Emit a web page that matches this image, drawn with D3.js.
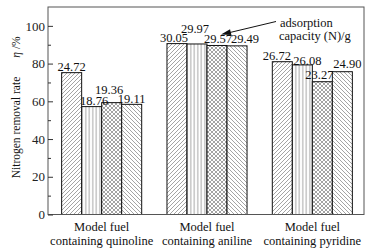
<!DOCTYPE html>
<html>
<head>
<meta charset="utf-8">
<script src="https://cdn.jsdelivr.net/npm/d3@7"></script>
<style>
html,body{margin:0;padding:0;background:#fff;}
svg{display:block;}
svg text{font-family:"Liberation Serif","Times New Roman",serif;}
</style>
</head>
<body>
<svg id="chart" width="378" height="252"></svg>
<script>
// ---- data ----
const categories = [["Model fuel","containing quinoline"],["Model fuel","containing aniline"],["Model fuel","containing pyridine"]];
const seriesNames = ["s1","s2","s3","s4"];
// nitrogen removal rate (%)
const removalRate = [
  [75.2, 57.2, 59.3, 58.4],
  [90.6, 90.4, 89.6, 89.4],
  [81.0, 79.3, 70.4, 75.7]
];
// adsorption capacity labels (mg N / g)
const capacityLabels = [
  ["24.72","18.76","19.36","19.11"],
  ["30.05","29.97","29.57","29.49"],
  ["26.72","26.08","23.27","24.90"]
];
const yTicks = [0,20,40,60,80,100];
const yMinorTicks = [10,30,50,70,90];

// ---- layout / style (not data) ----
const FONT = "Liberation Serif, Times New Roman, serif";
const labelOffsets = [
  [[0,-2],[2.5,-1.5],[-2.5,-8.5],[0,-1.5]],
  [[-3,-2],[-2,-11],[1,-2],[8,-2.5]],
  [[-5.5,-1.5],[5,0],[-3,-2.5],[5,-3.5]]
];
const m = {left:48, right:364, top:7, bottom:214.5};

const svg = d3.select("#chart").attr("font-family", FONT);
const defs = svg.append("defs");

function pat(id, size, draw){
  const p = defs.append("pattern").attr("id", id).attr("patternUnits","userSpaceOnUse")
    .attr("width", size).attr("height", size);
  p.append("rect").attr("width", size).attr("height", size).attr("fill","#fff");
  draw(p, size);
}
const hs = "#666", hw = 0.6;
pat("p1", 4, (p,s)=>{ // "///"
  p.append("path").attr("d",`M0,${s} L${s},0 M${-s/2},${s/2} L${s/2},${-s/2} M${s/2},${s*1.5} L${s*1.5},${s/2}`)
    .attr("stroke",hs).attr("stroke-width",hw);
});
pat("p2", 3.5, (p,s)=>{ // vertical
  p.append("path").attr("d",`M${s/2},0 L${s/2},${s}`).attr("stroke",hs).attr("stroke-width",hw);
});
pat("p3", 4, (p,s)=>{ // cross
  p.append("path").attr("d",`M0,${s} L${s},0 M${-s/2},${s/2} L${s/2},${-s/2} M${s/2},${s*1.5} L${s*1.5},${s/2} M0,0 L${s},${s} M${-s/2},${s/2} L${s/2},${s*1.5} M${s/2},${-s/2} L${s*1.5},${s/2}`)
    .attr("stroke",hs).attr("stroke-width",hw);
});
pat("p4", 4, (p,s)=>{ // "\\\"
  p.append("path").attr("d",`M0,0 L${s},${s} M${-s/2},${s/2} L${s/2},${s*1.5} M${s/2},${-s/2} L${s*1.5},${s/2}`)
    .attr("stroke",hs).attr("stroke-width",hw);
});
const fills = ["url(#p1)","url(#p2)","url(#p3)","url(#p4)"];

const y = d3.scaleLinear().domain([0,110]).range([m.bottom, m.top]);
const x0 = d3.scaleBand().domain(d3.range(categories.length)).range([49, 365]).paddingInner(0.24).paddingOuter(0.12);
const x1 = d3.scaleBand().domain(seriesNames).range([0, x0.bandwidth()]);

// bars
const g = svg.append("g");
removalRate.forEach((vals, ci)=>{
  vals.forEach((v, si)=>{
    const bx = x0(ci) + x1(seriesNames[si]);
    g.append("rect")
      .attr("x", bx).attr("y", y(v))
      .attr("width", x1.bandwidth()).attr("height", y(0)-y(v))
      .attr("fill", fills[si]).attr("stroke","#111").attr("stroke-width",1);
  });
});

// frame
svg.append("rect").attr("x",m.left).attr("y",m.top).attr("width",m.right-m.left).attr("height",m.bottom-m.top)
  .attr("fill","none").attr("stroke","#555").attr("stroke-width",1);

// y axis (ticks inward)
const yAxis = d3.axisLeft(y).tickValues(yTicks).tickSize(-5).tickPadding(8).tickSizeOuter(0);
const ya = svg.append("g").attr("transform",`translate(${m.left},0)`).call(yAxis);
ya.attr("font-family", FONT);
ya.select(".domain").remove();
ya.selectAll("line").attr("stroke","#333");
ya.selectAll("text").attr("font-size","13px").attr("font-family",FONT).attr("fill","#222").attr("x",-3);
const yMinor = d3.axisLeft(y).tickValues(yMinorTicks).tickSize(-3).tickFormat("");
const ym = svg.append("g").attr("transform",`translate(${m.left},0)`).call(yMinor);
ym.select(".domain").remove();
ym.selectAll("line").attr("stroke","#333");

// value labels
removalRate.forEach((vals, ci)=>{
  vals.forEach((v, si)=>{
    const cx = x0(ci) + x1(seriesNames[si]) + x1.bandwidth()/2;
    const off = labelOffsets[ci][si];
    svg.append("text").attr("x", cx + off[0]).attr("y", y(v) + off[1])
      .attr("text-anchor","middle").attr("font-size","12.5px").attr("font-family",FONT).attr("fill","#111")
      .text(capacityLabels[ci][si]);
  });
});

// category labels
categories.forEach((lines, ci)=>{
  const cx = x0(ci) + x0.bandwidth()/2;
  const t = svg.append("text").attr("text-anchor","middle").attr("font-size","12.5px").attr("font-family",FONT).attr("fill","#111");
  t.append("tspan").attr("x",cx).attr("y",231).text(lines[0]);
  t.append("tspan").attr("x",cx).attr("y",245).text(lines[1]);
});

// y-axis title
svg.append("text").attr("transform","translate(20,127.5) rotate(-90)").attr("text-anchor","middle")
  .attr("font-size","11.5px").attr("font-family",FONT).attr("fill","#111").text("Nitrogen removal rate");
const yt2 = svg.append("text").attr("transform","translate(20,47) rotate(-90)").attr("text-anchor","middle")
  .attr("font-size","11.5px").attr("font-family",FONT).attr("fill","#111");
yt2.append("tspan").attr("font-style","italic").text("η");
yt2.append("tspan").text(" /%");

// annotation
const ax1 = 276, ay1 = 21.5, ax2 = 221, ay2 = 34.5;
svg.append("line").attr("x1",ax1).attr("y1",ay1).attr("x2",ax2+6).attr("y2",ay2-1.3)
  .attr("stroke","#111").attr("stroke-width",1);
const ang = Math.atan2(ay1-ay2, ax1-ax2);
const L = 10, Wd = 3;
const bx = ax2 + L*Math.cos(ang), by = ay2 + L*Math.sin(ang);
const px = -Math.sin(ang)*Wd, py = Math.cos(ang)*Wd;
svg.append("path").attr("d",`M${ax2},${ay2} L${bx+px},${by+py} L${bx-px},${by-py} Z`).attr("fill","#111");
const at = svg.append("text").attr("font-size","12.5px").attr("font-family",FONT).attr("fill","#111");
at.append("tspan").attr("x",280).attr("y",26.5).text("adsorption");
at.append("tspan").attr("x",279).attr("y",39.5).text("capacity (N)/g");
</script>
</body>
</html>
